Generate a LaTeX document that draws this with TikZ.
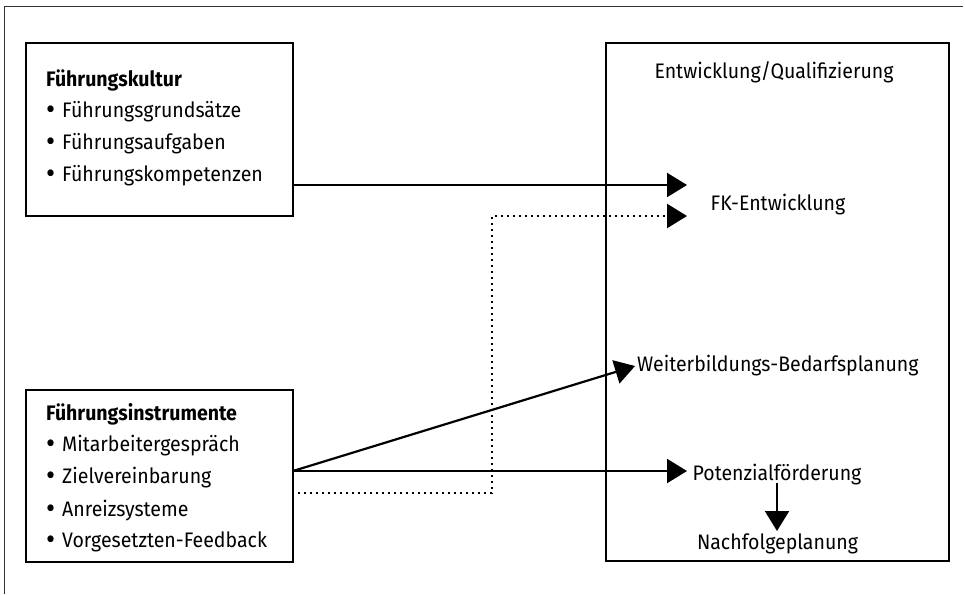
\documentclass[tikz,border=0pt]{standalone}
\usepackage{fontspec}
\setmainfont{Fira Sans}[FakeStretch=0.93]
\usetikzlibrary{arrows.meta}
% enlarged list bullet
\newcommand\blt{\makebox[16pt][l]{\raisebox{-2.5pt}{\fontsize{30}{30}\selectfont •}}}
\tikzset{
  box/.style={draw, line width=2.4pt, rectangle, inner sep=0pt},
  lbl/.style={anchor=base west, inner sep=0pt, font=\fontsize{21}{25}\selectfont},
  hd/.style={anchor=base west, inner sep=0pt, font=\fontsize{21}{25}\selectfont\bfseries},
  clbl/.style={anchor=base, inner sep=0pt, font=\fontsize{21}{25}\selectfont},
  arr/.style={line width=2.2pt, -{Triangle[length=20pt,width=24pt]}},
  dotline/.style={line width=2.4pt, dash pattern=on 2.4pt off 3.6pt, -{Triangle[length=20pt,width=24pt]}}
}
\begin{document}
\begin{tikzpicture}[x=1pt,y=-1pt]
\useasboundingbox (0,0) rectangle (965,594);
% outer frame (top and left edge)
\draw[line width=1pt, black!80] (4,594) -- (4,7) -- (963,7);

% boxes
\node[box, minimum width=267pt, minimum height=173pt] (kultur) at (159.5,129.5) {};
\node[box, minimum width=267pt, minimum height=172pt] (instr) at (159.5,476) {};
\node[box, minimum width=343pt, minimum height=518pt] (entw) at (777.5,302) {};

% left box texts
\node[hd] (k0) at (46,86) {Führungskultur};
\node[lbl] (k1) at (46,117) {\blt Führungsgrundsätze};
\node[lbl] (k2) at (46,149) {\blt Führungsaufgaben};
\node[lbl] (k3) at (46,181) {\blt Führungskompetenzen};

\node[hd] (i0) at (46,420) {Führungsinstrumente};
\node[lbl] (i1) at (46,451) {\blt Mitarbeitergespräch};
\node[lbl] (i2) at (46,483) {\blt Zielvereinbarung};
\node[lbl] (i3) at (46,516) {\blt Anreizsysteme};
\node[lbl] (i4) at (46,547) {\blt Vorgesetzten-Feedback};

% right box texts
\node[clbl] (title) at (774,78) {Entwicklung/Qualifizierung};
\node[clbl] (fk) at (778,210) {FK-Entwicklung};
\node[lbl] (wb) at (637,371) {Weiterbildungs-Bedarfsplanung};
\node[clbl] (pot) at (777,480) {Potenzialförderung};
\node[clbl] (nach) at (777.5,549) {Nachfolgeplanung};

% arrow end points
\coordinate (fkA) at (687,185);
\coordinate (fkB) at (687,216);
\coordinate (wbT) at (635,366);
\coordinate (potT) at (687,471);
\coordinate (instrOut) at (293,471);
\coordinate (dotY) at (298,493);
\coordinate (dotX) at (492,493);

% connectors
\draw[arr] (kultur.east |- fkA) -- (fkA);
\draw[arr] (instrOut) -- (wbT);
\draw[arr] (instrOut) -- (potT);
\draw[dotline] (dotY) -- (dotX) -- (dotX |- fkB) -- (fkB);
\draw[arr] (777,483) -- (777,531);
\end{tikzpicture}
\end{document}
